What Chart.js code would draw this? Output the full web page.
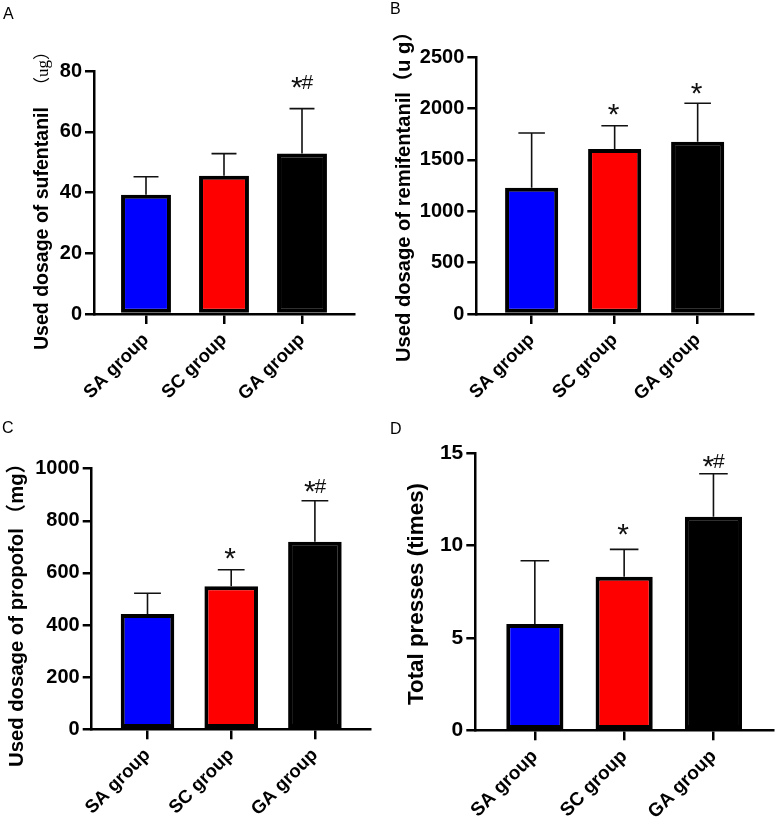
<!DOCTYPE html>
<html>
<head>
<meta charset="utf-8">
<script src="https://cdn.jsdelivr.net/npm/chart.js@4.4.0/dist/chart.umd.min.js"></script>
<style>
html,body{margin:0;padding:0;background:#fff;width:776px;height:829px;overflow:hidden;}
.panel{position:absolute;}
.letter{position:absolute;font-family:'Liberation Sans',Arial,sans-serif;font-size:16px;line-height:1;color:#000;}
</style>
</head>
<body>
<div class="panel" style="left:0;top:0;width:388px;height:415px"><canvas id="cA"></canvas></div>
<div class="panel" style="left:388px;top:0;width:388px;height:415px"><canvas id="cB"></canvas></div>
<div class="panel" style="left:0;top:415px;width:388px;height:414px"><canvas id="cC"></canvas></div>
<div class="panel" style="left:388px;top:415px;width:388px;height:414px"><canvas id="cD"></canvas></div>
<div class="letter" style="left:3px;top:6px">A</div>
<div class="letter" style="left:390px;top:1px">B</div>
<div class="letter" style="left:2px;top:420px">C</div>
<div class="letter" style="left:390px;top:421px">D</div>
<script>
// ---------- data ----------
const categories = ['SA group', 'SC group', 'GA group'];
const barColors = ['#0000ff', '#ff0000', '#000000'];

const sufentanilMean = [39.3, 45.5, 52.8];
const sufentanilSD = [5.9, 7.3, 14.8];
const sufentanilMarks = ['', '', '*#'];
const sufentanilTicks = [0, 20, 40, 60, 80];

const remifentanilMean = [1230, 1607, 1678];
const remifentanilSD = [533, 227, 374];
const remifentanilMarks = ['', '*', '*'];
const remifentanilTicks = [0, 500, 1000, 1500, 2000, 2500];

const propofolMean = [442, 549, 720];
const propofolSD = [80, 63, 157];
const propofolMarks = ['', '*', '*#'];
const propofolTicks = [0, 200, 400, 600, 800, 1000];

const pressesMean = [5.76, 8.32, 11.57];
const pressesSD = [3.42, 1.48, 2.32];
const pressesMarks = ['', '*', '*#'];
const pressesTicks = [0, 5, 10, 15];

// ---------- styles / layout ----------
const SANS = "'Liberation Sans', Arial, 'Noto Sans CJK SC', sans-serif";
const SERIF = "'Liberation Serif', 'DejaVu Serif', 'Noto Sans CJK SC', serif";
const panels = [
  { id: 'cA', mean: sufentanilMean, sd: sufentanilSD, marks: sufentanilMarks, ticks: sufentanilTicks,
    w: 388, h: 415, left: 94, right: 354, top: 71, bottom: 314,
    tickSize: 20, labelSize: 18.5, titleX: 48, titleBottom: 350,
    titleRuns: [
      { text: 'Used dosage of sufentanil', weight: 'bold ', family: SANS, len: 243, gap: 13 },
      { text: '（ug）', weight: '', family: SERIF, size: 17, gap: 0 }
    ],
    markGap: [0, 0, 26] },
  { id: 'cB', mean: remifentanilMean, sd: remifentanilSD, marks: remifentanilMarks, ticks: remifentanilTicks,
    w: 388, h: 415, left: 88.3, right: 365, top: 57.3, bottom: 314,
    tickSize: 20, labelSize: 18.5, titleX: 22, titleBottom: 362,
    titleRuns: [
      { text: 'Used dosage of remifentanil', weight: 'bold ', family: SANS, len: 270, gap: 0 },
      { text: '（u g）', weight: 'bold ', family: SANS, same: true, gap: 0 }
    ],
    markGap: [0, 16, 15] },
  { id: 'cC', mean: propofolMean, sd: propofolSD, marks: propofolMarks, ticks: propofolTicks,
    w: 388, h: 414, left: 91.7, right: 370.7, top: 53.7, bottom: 314.3,
    tickSize: 20, labelSize: 18.5, titleX: 23, titleBottom: 352,
    titleRuns: [
      { text: 'Used dosage of propofol', weight: 'bold ', family: SANS, len: 239, gap: 4 },
      { text: '（mg）', weight: 'bold ', family: SANS, same: true, gap: 0 }
    ],
    markGap: [0, 16.5, 14] },
  { id: 'cD', mean: pressesMean, sd: pressesSD, marks: pressesMarks, ticks: pressesTicks,
    w: 388, h: 414, left: 87.3, right: 385, top: 38.3, bottom: 315.3,
    tickSize: 21, labelSize: 19, titleX: 35, titleBottom: 290,
    titleRuns: [
      { text: 'Total presses (times)', weight: 'bold ', family: SANS, len: 222, gap: 0 }
    ],
    markGap: [0, 20, 12.5] }
];
const panelById = {};
panels.forEach(p => { panelById[p.id] = p; });

// ---------- plugins ----------
const errorBarPlugin = {
  id: 'errorBars',
  afterDatasetsDraw(chart) {
    const p = panelById[chart.canvas.id];
    const ctx = chart.ctx;
    const ys = chart.scales.y;
    const meta = chart.getDatasetMeta(0);
    ctx.save();
    ctx.strokeStyle = '#111';
    ctx.lineWidth = 1.6;
    meta.data.forEach((bar, i) => {
      const yBase = ys.getPixelForValue(p.mean[i]);
      const yTop = ys.getPixelForValue(p.mean[i] + p.sd[i]);
      const half = bar.width * 0.25;
      ctx.beginPath();
      ctx.moveTo(bar.x, yBase);
      ctx.lineTo(bar.x, yTop);
      ctx.moveTo(bar.x - half, yTop);
      ctx.lineTo(bar.x + half, yTop);
      ctx.stroke();
    });
    ctx.restore();
  }
};

function drawCentered(ctx, text, cx, cy) {
  const m = ctx.measureText(text);
  const asc = m.actualBoundingBoxAscent, desc = m.actualBoundingBoxDescent;
  const l = m.actualBoundingBoxLeft, r = m.actualBoundingBoxRight;
  ctx.fillText(text, cx - (r - l) / 2, cy + (asc - desc) / 2);
}

const markPlugin = {
  id: 'marks',
  afterDraw(chart) {
    const p = panelById[chart.canvas.id];
    const ctx = chart.ctx;
    const ys = chart.scales.y;
    const meta = chart.getDatasetMeta(0);
    ctx.save();
    ctx.fillStyle = '#111';
    ctx.textAlign = 'left';
    ctx.textBaseline = 'alphabetic';
    meta.data.forEach((bar, i) => {
      const mk = p.marks[i];
      if (!mk) return;
      const yTop = ys.getPixelForValue(p.mean[i] + p.sd[i]);
      const starY = yTop - p.markGap[i];
      ctx.font = "30px " + SANS;
      if (mk === '*') {
        drawCentered(ctx, '*', bar.x - 1, starY);
      } else {
        drawCentered(ctx, '*', bar.x - 5, starY);
        ctx.font = "21px " + SANS;
        const m = ctx.measureText('#');
        ctx.fillText('#', bar.x + 5.5 - (m.actualBoundingBoxRight - m.actualBoundingBoxLeft) / 2, starY + 6.5);
      }
    });
    ctx.restore();
  }
};

const titlePlugin = {
  id: 'yTitle',
  afterDraw(chart) {
    const p = panelById[chart.canvas.id];
    const ctx = chart.ctx;
    ctx.save();
    ctx.fillStyle = '#000';
    ctx.textBaseline = 'alphabetic';
    ctx.textAlign = 'left';
    // size of the main run fitted to the measured reference length
    const main = p.titleRuns[0];
    ctx.font = main.weight + '20px ' + main.family;
    const mainSize = 20 * main.len / ctx.measureText(main.text).width;
    ctx.translate(p.titleX, p.titleBottom);
    ctx.rotate(-Math.PI / 2);
    let x = 0;
    p.titleRuns.forEach((r, k) => {
      const size = k === 0 || r.same ? mainSize : r.size;
      ctx.font = r.weight + size.toFixed(2) + 'px ' + r.family;
      ctx.fillText(r.text, x, 0);
      x += ctx.measureText(r.text).width + r.gap;
    });
    ctx.restore();
  }
};

// ---------- charts ----------
panels.forEach(p => {
  const canvas = document.getElementById(p.id);
  new Chart(canvas, {
    type: 'bar',
    data: {
      datasets: [{
        data: p.mean.map((v, i) => ({ x: i, y: v })),
        backgroundColor: barColors,
        borderColor: '#000',
        borderWidth: 4,
        borderSkipped: false,
        categoryPercentage: 0.8,
        barPercentage: 0.8
      }]
    },
    options: {
      responsive: true,
      maintainAspectRatio: false,
      animation: false,
      events: [],
      layout: { padding: { left: 0, right: p.w - p.right, top: p.top, bottom: 0 } },
      plugins: { legend: { display: false }, tooltip: { enabled: false }, title: { display: false } },
      scales: {
        x: {
          type: 'linear',
          min: -2 / 3,
          max: categories.length - 1 / 3,
          offset: false,
          afterBuildTicks: s => { s.ticks = categories.map((c, i) => ({ value: i })); },
          afterFit: s => { s.height = p.h - p.bottom; },
          ticks: {
            autoSkip: false, maxRotation: 45, minRotation: 45, padding: 5, color: '#000',
            font: { family: SANS, weight: 'bold', size: p.labelSize },
            callback: v => categories[v]
          },
          grid: { offset: false, drawOnChartArea: false, drawTicks: true, tickLength: 10, color: '#000', lineWidth: 2.5 },
          border: { display: true, color: '#000', width: 2.5 }
        },
        y: {
          min: p.ticks[0],
          max: p.ticks[p.ticks.length - 1],
          afterBuildTicks: s => { s.ticks = p.ticks.map(v => ({ value: v })); },
          afterFit: s => { s.width = p.left; },
          ticks: {
            padding: 3, color: '#000',
            font: { family: SANS, weight: 'bold', size: p.tickSize },
            callback: v => String(v)
          },
          grid: { drawOnChartArea: false, drawTicks: true, tickLength: 9, color: '#000', lineWidth: 2.5 },
          border: { display: true, color: '#000', width: 2.5 }
        }
      }
    },
    plugins: [errorBarPlugin, markPlugin, titlePlugin]
  });
});
</script>
</body>
</html>
